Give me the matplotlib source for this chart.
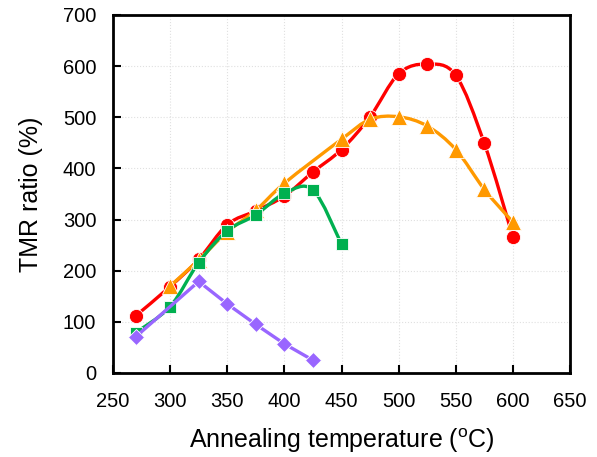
import numpy as np
import matplotlib
matplotlib.use("Agg")
import matplotlib.pyplot as plt
from matplotlib.path import Path
from matplotlib.patches import PathPatch

plt.rcParams['font.family'] = ['Liberation Sans', 'DejaVu Sans']
plt.rcParams['mathtext.fontset'] = 'custom'
plt.rcParams['mathtext.rm'] = 'Liberation Sans'

# Data
red_x = [270, 300, 325, 350, 375, 400, 425, 450, 475, 500, 525, 550, 575, 600]
red_y = [112, 169, 222, 290, 317, 346, 393, 437, 501, 585, 604, 582, 449, 266]

orange_x = [300, 325, 350, 375, 400, 450, 475, 500, 525, 550, 575, 600]
orange_y = [170, 221, 276, 318, 371, 457, 496, 501, 483, 437, 359, 295]

green_x = [270, 300, 325, 350, 375, 400, 425, 450]
green_y = [79, 130, 216, 278, 309, 351, 358, 252]

purple_x = [270, 325, 350, 375, 400, 425]
purple_y = [71, 179, 135, 95, 57, 25]


# Excel style smoothed line as bezier path
def smooth_path(xs, ys):
    pts = np.column_stack([xs, ys]).astype(float)
    n = len(pts)
    verts = [pts[0]]
    codes = [Path.MOVETO]
    for i in range(n - 1):
        p0 = pts[i - 1] if i > 0 else pts[i]
        p1 = pts[i]
        p2 = pts[i + 1]
        p3 = pts[i + 2] if i + 2 < n else pts[i + 1]
        c1 = p1 + (p2 - p0) / 6.0
        c2 = p2 - (p3 - p1) / 6.0
        verts += [c1, c2, p2]
        codes += [Path.CURVE4] * 3
    return Path(verts, codes)


fig = plt.figure(figsize=(5.97, 4.57), dpi=100)
ax = fig.add_axes([113 / 597, 1 - 373 / 457, 457 / 597, 358 / 457])

# x, y, colour, marker, size, smoothed
series = [
    (red_x, red_y, '#FF0000', 'o', 10.2, True),
    (orange_x, orange_y, '#FF9900', '^', 11, True),
    (green_x, green_y, '#00B050', 's', 9, True),
    (purple_x, purple_y, '#9966FF', 'D', 8, False),
]

z = 3
for xs, ys, col, mk, ms, smooth in series:
    if smooth:
        ax.add_patch(PathPatch(smooth_path(xs, ys), facecolor='none', edgecolor=col,
                               lw=2.4, zorder=z, capstyle='round', joinstyle='round'))
    else:
        ax.plot(xs, ys, color=col, lw=2.4, zorder=z, solid_capstyle='round')
    ax.plot(xs, ys, linestyle='none', marker=mk, color=col, markersize=ms,
            markeredgecolor='white', markeredgewidth=0.6, zorder=z + 0.5)
    z += 1

ax.set_xlim(250, 650)
ax.set_ylim(0, 700)
ax.set_xticks(np.arange(250, 651, 50))
ax.set_yticks(np.arange(0, 701, 100))
ax.grid(True, color='#E0E0E0', linestyle=':', linewidth=0.8)
ax.set_axisbelow(True)

for s in ax.spines.values():
    s.set_linewidth(2)
    s.set_color('black')

ax.tick_params(direction='in', length=6, width=1.5, labelsize=14.5,
               top=False, right=False)
ax.tick_params(axis='x', pad=14)
ax.tick_params(axis='y', pad=12)
ax.set_xlabel(r'Annealing temperature ($\mathregular{^o}$C)', fontsize=18, labelpad=11)
ax.set_ylabel('TMR ratio (%)', fontsize=18, labelpad=14)

fig.savefig('out.png', dpi=100)
